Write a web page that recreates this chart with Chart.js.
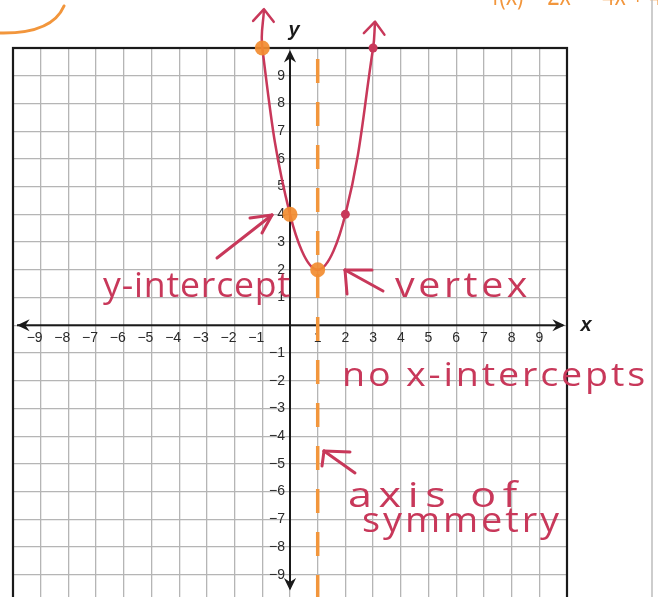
<!DOCTYPE html>
<html>
<head>
<meta charset="utf-8">
<script src="https://cdn.jsdelivr.net/npm/chart.js@4.4.1/dist/chart.umd.min.js"></script>
<style>
  html, body { margin: 0; padding: 0; background: #fff; overflow: hidden; }
  canvas { display: block; }
</style>
</head>
<body>
<canvas id="graph" width="658" height="610"></canvas>
<script>
// f(x) = 2(x - 1)^2 + 2 : plotted points, plus where the arrows leave the grid
const curveX = [-0.94, -1, 0, 1, 2, 3, 3.07];
const curveY = [11.4, 10, 4, 2, 4, 10, 10.95];

// highlighted points (orange) and the other plotted points (red)
const markX = [-1, 0, 1];
const markY = [10, 4, 2];
const dotX = [2, 3];
const dotY = [4, 10];

// axis of symmetry x = 1
const symX = [1, 1];
const symY = [9.6, -10];

const xTicks = [-9, -8, -7, -6, -5, -4, -3, -2, -1, 1, 2, 3, 4, 5, 6, 7, 8, 9];
const yTicks = [-9, -8, -7, -6, -5, -4, -3, -2, -1, 1, 2, 3, 4, 5, 6, 7, 8, 9];

const RED = '#c8385a';
const ORANGE = '#f2963c';

function pts(xs, ys) {
  return xs.map((x, i) => ({ x: x, y: ys[i] }));
}

function arrowHead(ctx, tipX, tipY, fromX, fromY, len, spread, filled) {
  const a = Math.atan2(tipY - fromY, tipX - fromX);
  ctx.beginPath();
  ctx.moveTo(tipX - len * Math.cos(a - spread), tipY - len * Math.sin(a - spread));
  ctx.lineTo(tipX, tipY);
  ctx.lineTo(tipX - len * Math.cos(a + spread), tipY - len * Math.sin(a + spread));
  if (filled) {
    ctx.lineTo(tipX - len * 0.6 * Math.cos(a), tipY - len * 0.6 * Math.sin(a));
    ctx.closePath();
    ctx.fill();
  } else {
    ctx.stroke();
  }
}

// handwritten-ish note: part letter spacing, part stretch, to fill a width
function note(ctx, text, x, baseline, width, size, color) {
  ctx.save();
  ctx.font = size + 'px "Open Sans"';
  ctx.letterSpacing = '0px';
  const w0 = ctx.measureText(text).width;
  const gap = Math.max(0, width - w0);
  ctx.letterSpacing = (gap * 0.5 / text.length) + 'px';
  const w = ctx.measureText(text).width;
  ctx.translate(x, baseline);
  ctx.scale(width / w, 1);
  ctx.fillStyle = color;
  ctx.textAlign = 'left';
  ctx.textBaseline = 'alphabetic';
  ctx.fillText(text, 0, 0);
  ctx.restore();
}

function line(ctx, x1, y1, x2, y2) {
  ctx.beginPath();
  ctx.moveTo(x1, y1);
  ctx.lineTo(x2, y2);
  ctx.stroke();
}

const graphPaper = {
  id: 'graphPaper',
  beforeDatasetsDraw(chart) {
    const ctx = chart.ctx;
    const a = chart.chartArea;
    const sx = chart.scales.x, sy = chart.scales.y;
    const ox = sx.getPixelForValue(0), oy = sy.getPixelForValue(0);
    ctx.save();
    // frame
    ctx.strokeStyle = '#1a1a1a';
    ctx.lineWidth = 2.2;
    ctx.strokeRect(a.left, a.top, a.right - a.left, a.bottom - a.top);

    // axes with arrows
    ctx.lineWidth = 2;
    ctx.fillStyle = '#1a1a1a';
    line(ctx, a.left + 4, oy, a.right - 4, oy);
    line(ctx, ox, a.top + 4, ox, a.bottom - 14);
    arrowHead(ctx, a.right - 2, oy, a.left, oy, 14, 0.45, true);
    arrowHead(ctx, a.left + 4, oy, a.right, oy, 14, 0.45, true);
    arrowHead(ctx, ox, a.top + 2, ox, a.bottom, 14, 0.45, true);
    arrowHead(ctx, ox, a.bottom - 12, ox, a.top, 14, 0.45, true);

    // tick labels
    ctx.font = '14px "Liberation Sans"';
    ctx.fillStyle = '#2a2a2a';
    ctx.textBaseline = 'middle';
    xTicks.forEach(v => {
      const px = sx.getPixelForValue(v);
      const digits = String(Math.abs(v));
      const dw = ctx.measureText(digits).width;
      if (v > 0) {
        ctx.textAlign = 'center';
        ctx.fillText(String(v), px, oy + 13);
      } else {
        ctx.textAlign = 'right';
        ctx.fillText('\u2212' + digits, px + dw / 2 - 2, oy + 13);
      }
    });
    ctx.textAlign = 'right';
    yTicks.forEach(v => {
      const py = sy.getPixelForValue(v);
      const txt = v < 0 ? '\u2212' + Math.abs(v) : String(v);
      ctx.fillText(txt, ox - 5, py);
    });

    // axis names
    ctx.font = 'italic bold 20px "Liberation Sans"';
    ctx.fillStyle = '#1a1a1a';
    ctx.textAlign = 'center';
    ctx.fillText('x', a.right + 19, oy);
    ctx.fillText('y', ox + 4, a.top - 18);
    ctx.restore();
  },
  afterDatasetsDraw(chart) {
    const ctx = chart.ctx;
    const sx = chart.scales.x, sy = chart.scales.y;
    const px = v => sx.getPixelForValue(v);
    const py = v => sy.getPixelForValue(v);
    ctx.save();
    ctx.lineCap = 'round';
    ctx.lineJoin = 'round';

    // arrows at both ends of the parabola
    ctx.strokeStyle = RED;
    ctx.lineWidth = 2.5;
    const n = curveX.length;
    arrowHead(ctx, px(curveX[0]), py(curveY[0]), px(curveX[1]), py(curveY[1]), 16, 0.7, false);
    arrowHead(ctx, px(curveX[n - 1]), py(curveY[n - 1]), px(curveX[n - 2]), py(curveY[n - 2]), 16, 0.7, false);

    // notes
    note(ctx, 'y-intercept', 103, 297, 188, 34, RED);
    note(ctx, 'vertex', 395, 297, 136, 34, RED);
    note(ctx, 'no x-intercepts', 342, 386, 306, 33, RED);
    note(ctx, 'axis of', 348, 507, 176, 34, RED);
    note(ctx, 'symmetry', 362, 532, 200, 34, RED);

    ctx.strokeStyle = RED;
    ctx.lineWidth = 3;
    // y-intercept pointer
    line(ctx, 217, 258, 272, 215);
    line(ctx, 272, 215, 250, 218);
    line(ctx, 272, 215, 262, 233);
    // vertex pointer
    line(ctx, 383, 291, 345, 270);
    line(ctx, 345, 270, 372, 270);
    line(ctx, 345, 270, 347, 294);
    // axis of symmetry pointer
    line(ctx, 355, 473, 324, 451);
    line(ctx, 324, 451, 350, 452);
    line(ctx, 324, 451, 322, 466);

    // orange scribbles cut off at the top
    ctx.strokeStyle = ORANGE;
    ctx.lineWidth = 3;
    ctx.beginPath();
    ctx.moveTo(0, 33);
    ctx.quadraticCurveTo(52, 34, 64, 6);
    ctx.stroke();
    note(ctx, 'f(x) = 2x\u00b2 \u2212 4x + 4', 492, 5, 170, 30, ORANGE);

    // edge of the sheet
    ctx.strokeStyle = '#bdbdbd';
    ctx.lineWidth = 1.5;
    line(ctx, 652, 0, 652, 610);
    ctx.restore();
  }
};

new Chart(document.getElementById('graph'), {
  type: 'scatter',
  data: {
    datasets: [
      {
        data: pts(markX, markY),
        pointRadius: 7.5,
        pointBackgroundColor: 'rgba(242,140,48,0.92)',
        pointBorderWidth: 0,
        showLine: false,
        clip: false
      },
      {
        data: pts(dotX, dotY),
        pointRadius: 4.5,
        pointBackgroundColor: RED,
        pointBorderWidth: 0,
        showLine: false,
        clip: false
      },
      {
        data: pts(curveX, curveY),
        showLine: true,
        borderColor: RED,
        borderWidth: 2.5,
        tension: 0.4,
        pointRadius: 0,
        clip: false
      },
      {
        data: pts(symX, symY),
        showLine: true,
        borderColor: ORANGE,
        borderWidth: 3.5,
        borderDash: [24, 19],
        pointRadius: 0,
        clip: false
      }
    ]
  },
  options: {
    responsive: false,
    animation: false,
    events: [],
    layout: { padding: { left: 13, right: 91, top: 48, bottom: 2 } },
    plugins: { legend: { display: false }, tooltip: { enabled: false } },
    scales: {
      x: {
        type: 'linear', min: -10, max: 10,
        ticks: { display: false, stepSize: 1 },
        grid: { color: '#b5b5b5', lineWidth: 1.3, drawTicks: false },
        border: { display: false }
      },
      y: {
        type: 'linear', min: -10, max: 10,
        ticks: { display: false, stepSize: 1 },
        grid: { color: '#b5b5b5', lineWidth: 1.3, drawTicks: false },
        border: { display: false }
      }
    }
  },
  plugins: [graphPaper]
});
</script>
</body>
</html>
